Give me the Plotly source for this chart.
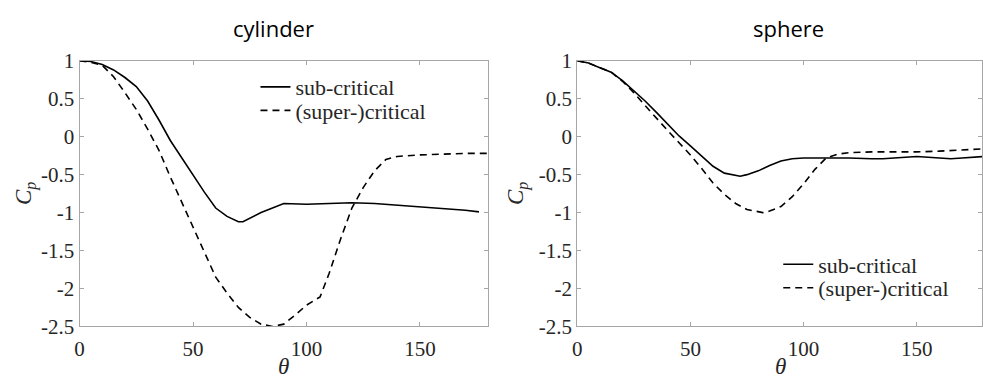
import plotly.graph_objects as go

# ---------------- data ----------------
cyl_sub_theta = [0, 5, 10, 15, 20, 25, 30, 35, 40, 45, 50, 55, 60, 65, 70, 72, 80, 90,
                 100, 110, 120, 130, 140, 150, 160, 170, 176]
cyl_sub_cp = [1.0, 0.99, 0.95, 0.88, 0.78, 0.66, 0.47, 0.22, -0.05, -0.28, -0.50, -0.73,
              -0.94, -1.05, -1.12, -1.12, -1.00, -0.88, -0.89, -0.88, -0.87, -0.88,
              -0.90, -0.92, -0.95, -0.97, -0.99]

cyl_sup_theta = [0, 5, 10, 15, 20, 25, 30, 35, 40, 45, 50, 55, 60, 65, 70, 75, 80, 85,
                 90, 95, 100, 106, 110, 115, 120, 125, 130, 135, 140, 150, 160, 170, 180]
cyl_sup_cp = [1.0, 0.98, 0.94, 0.79, 0.58, 0.36, 0.10, -0.18, -0.53, -0.86, -1.20, -1.52,
              -1.85, -2.06, -2.25, -2.38, -2.47, -2.50, -2.47, -2.35, -2.22, -2.11,
              -1.80, -1.35, -0.94, -0.67, -0.45, -0.30, -0.26, -0.24, -0.23, -0.22, -0.22]

sph_sub_theta = [0, 5, 10, 15, 20, 25, 30, 35, 40, 45, 50, 55, 60, 65, 70, 72, 75, 80, 85,
                 90, 95, 100, 110, 120, 130, 135, 140, 150, 160, 165, 170, 180]
sph_sub_cp = [1.0, 0.97, 0.91, 0.85, 0.74, 0.61, 0.47, 0.32, 0.16, 0.01, -0.12, -0.25,
              -0.39, -0.48, -0.51, -0.52, -0.50, -0.45, -0.38, -0.32, -0.29, -0.28,
              -0.28, -0.28, -0.29, -0.29, -0.28, -0.26, -0.28, -0.29, -0.28, -0.26]

sph_sup_theta = [0, 5, 10, 15, 20, 25, 30, 35, 40, 45, 50, 55, 60, 65, 70, 75, 80, 82,
                 85, 90, 95, 100, 105, 110, 115, 120, 130, 140, 150, 160, 170, 180]
sph_sup_cp = [1.0, 0.97, 0.91, 0.85, 0.73, 0.58, 0.41, 0.24, 0.08, -0.08, -0.24, -0.42,
              -0.61, -0.76, -0.88, -0.96, -0.99, -1.0, -0.98, -0.92, -0.79, -0.62,
              -0.43, -0.28, -0.23, -0.21, -0.20, -0.20, -0.20, -0.19, -0.18, -0.16]

series_names = ["sub-critical", "(super-)critical"]
panel_titles = ["cylinder", "sphere"]
x_tickvals = [0, 50, 100, 150]
x_ticktext = ["0", "50", "100", "150"]
y_tickvals = [1, 0.5, 0, -0.5, -1, -1.5, -2, -2.5]
y_ticktext = ["1", "0.5", "0", "-0.5", "-1", "-1.5", "-2", "-2.5"]

# ---------------- figure ----------------
W, H = 983, 391
SERIF = "Liberation Serif"
TXT = "#262626"

fig = go.Figure()

line_solid = dict(color="black", width=1.6)
line_dash = dict(color="black", width=1.6, dash="7px,5px")

fig.add_trace(go.Scatter(x=cyl_sub_theta, y=cyl_sub_cp, mode="lines", line=line_solid,
                         name=series_names[0], xaxis="x", yaxis="y", legend="legend",
                         showlegend=True))
fig.add_trace(go.Scatter(x=cyl_sup_theta, y=cyl_sup_cp, mode="lines", line=line_dash,
                         name=series_names[1], xaxis="x", yaxis="y", legend="legend2",
                         showlegend=True))
fig.add_trace(go.Scatter(x=sph_sub_theta, y=sph_sub_cp, mode="lines", line=line_solid,
                         name=series_names[0], xaxis="x2", yaxis="y2", legend="legend3",
                         showlegend=True))
fig.add_trace(go.Scatter(x=sph_sup_theta, y=sph_sup_cp, mode="lines", line=line_dash,
                         name=series_names[1], xaxis="x2", yaxis="y2", legend="legend4",
                         showlegend=True))

def px_x(p):
    return p / W

def px_y(p):
    return 1 - p / H

axis_common = dict(showline=True, linecolor="#a6a6a6", linewidth=1, mirror="ticks",
                   ticks="inside", ticklen=4, tickcolor="#a6a6a6", showgrid=False,
                   zeroline=False, tickfont=dict(family=SERIF, size=21, color=TXT))

ydom = [px_y(335), px_y(52)]

def leg(xp, yp):
    return dict(x=px_x(xp), y=px_y(yp), xanchor="left", yanchor="middle",
                bgcolor="rgba(0,0,0,0)", font=dict(family=SERIF, size=22, color=TXT),
                itemwidth=30, borderwidth=0)

fig.update_layout(
    width=W, height=H,
    showlegend=True,
    font=dict(family=SERIF, size=21, color=TXT),
    margin=dict(l=0, r=0, t=0, b=0),
    paper_bgcolor="white", plot_bgcolor="white",
    xaxis=dict(domain=[px_x(75), px_x(486)], range=[0, 180], anchor="y",
               tickvals=x_tickvals, ticktext=x_ticktext, ticklabelstandoff=3,
               **axis_common),
    yaxis=dict(domain=ydom, range=[-2.5, 1], anchor="x",
               tickvals=y_tickvals, ticktext=y_ticktext, **axis_common),
    xaxis2=dict(domain=[px_x(575.7), 1.0], range=[0, (983 - 575.7) / 2.278], anchor="y2",
                tickvals=x_tickvals, ticktext=x_ticktext, ticklabelstandoff=3,
                **axis_common),
    yaxis2=dict(domain=ydom, range=[-2.5, 1], anchor="x2",
                tickvals=y_tickvals, ticktext=y_ticktext, **axis_common),
    legend=leg(252, 80),
    legend2=leg(252, 105),
    legend3=leg(778, 269),
    legend4=leg(778, 294),
)

annots = [
    dict(text=panel_titles[0], x=px_x(270), y=px_y(17)),
    dict(text=panel_titles[1], x=px_x(788), y=px_y(17)),
]
for a in annots:
    fig.add_annotation(xref="paper", yref="paper", xanchor="center", yanchor="middle",
                       showarrow=False, font=dict(family="Open Sans", size=22, color="black"),
                       **a)

for xc in (280, 780):
    fig.add_annotation(xref="paper", yref="paper", x=px_x(xc), y=px_y(378),
                       xanchor="center", yanchor="middle", showarrow=False,
                       text="<i>θ</i>", font=dict(family=SERIF, size=23, color=TXT))
for xc in (20, 515):
    fig.add_annotation(xref="paper", yref="paper", x=px_x(xc), y=px_y(193),
                       xanchor="center", yanchor="middle", showarrow=False, textangle=-90,
                       text="<i>C</i><sub><i>p</i></sub>",
                       font=dict(family=SERIF, size=23, color=TXT))

fig.write_html("out.html")
